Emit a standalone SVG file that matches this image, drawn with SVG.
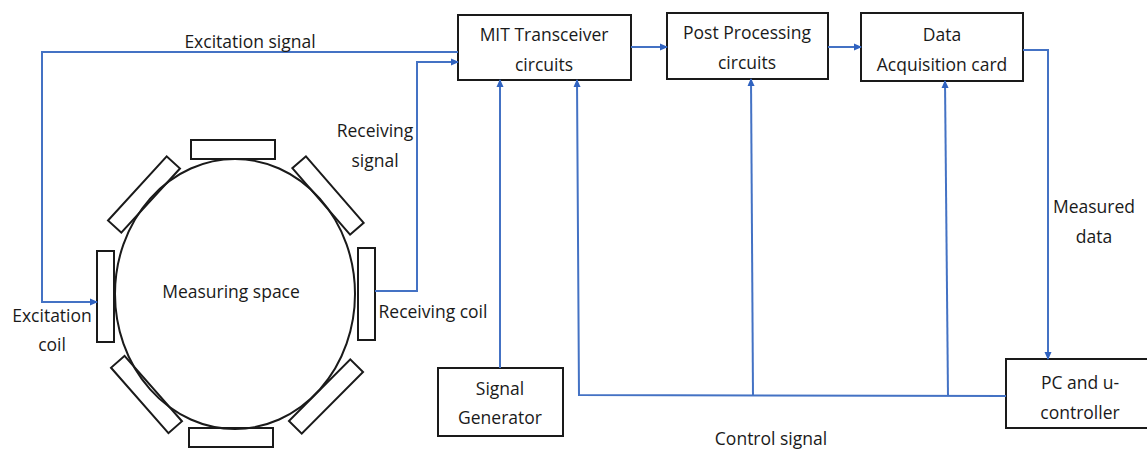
<svg xmlns="http://www.w3.org/2000/svg" width="1147" height="451" viewBox="0 0 1147 451">
<style>
.box{fill:#fff;stroke:#1a1a1a;stroke-width:2}
.coil{fill:none;stroke:#1a1a1a;stroke-width:2}
.ln{fill:none;stroke:#4472C4;stroke-width:2}
.t{font-family:"Open Sans","Noto Sans",sans-serif;font-size:17.5px;fill:#1a1a1a;text-anchor:middle}
</style>
<defs>
<marker id="ah" markerWidth="8" markerHeight="8" refX="7" refY="4" orient="auto" markerUnits="userSpaceOnUse">
<path d="M0,0.5 L8,4 L0,7.5 Z" fill="#2F62C0"/>
</marker>
</defs>
<rect width="1147" height="451" fill="#fff"/>

<g id="measuring-space">
<ellipse cx="235" cy="294" rx="120" ry="135" fill="none" stroke="#1a1a1a" stroke-width="2"/>
<text class="t" x="231" y="298">Measuring space</text>
</g>
<g id="coils">
<rect class="coil" x="191" y="140" width="84" height="19"/>
<rect class="coil" x="189" y="428" width="84" height="19"/>
<rect class="coil" x="97" y="251" width="17" height="91"/>
<rect class="coil" x="358" y="248" width="17" height="92"/>
<rect class="coil" x="100.5" y="185.5" width="87" height="18" transform="rotate(-47.6 144 194.5)"/>
<rect class="coil" x="284" y="186.5" width="88" height="18" transform="rotate(49 328 195.5)"/>
<rect class="coil" x="103" y="385.5" width="87" height="18" transform="rotate(48.7 146.5 394.5)"/>
<rect class="coil" x="282.5" y="387.5" width="87" height="18" transform="rotate(-45.2 326 396.5)"/>
</g>
<g id="excitation-coil-label">
<text class="t" x="52" y="322">Excitation</text>
<text class="t" x="52" y="351">coil</text>
</g>
<g id="receiving-coil-label">
<text class="t" x="433" y="318">Receiving coil</text>
</g>

<g id="mit-transceiver">
<rect class="box" x="458" y="15" width="173" height="65"/>
<text class="t" x="544" y="41">MIT Transceiver</text>
<text class="t" x="544" y="71">circuits</text>
</g>
<g id="post-processing">
<rect class="box" x="667" y="13" width="161" height="66"/>
<text class="t" x="747" y="39">Post Processing</text>
<text class="t" x="747" y="69">circuits</text>
</g>
<g id="data-acquisition">
<rect class="box" x="861" y="13" width="162" height="68"/>
<text class="t" x="942" y="41">Data</text>
<text class="t" x="942" y="71">Acquisition card</text>
</g>
<g id="signal-generator">
<rect class="box" x="438" y="368" width="125" height="68"/>
<text class="t" x="500" y="395">Signal</text>
<text class="t" x="500" y="424">Generator</text>
</g>
<g id="pc-controller">
<rect class="box" x="1006" y="359" width="150" height="69"/>
<text class="t" x="1080" y="389">PC and u-</text>
<text class="t" x="1080" y="419">controller</text>
</g>

<g id="connectors">
<polyline class="ln" points="458,52 42,52 42,302 97,302" marker-end="url(#ah)"/>
<polyline class="ln" points="375,291 417,291 417,62 458,62" marker-end="url(#ah)"/>
<line class="ln" x1="631" y1="47" x2="667" y2="47" marker-end="url(#ah)"/>
<line class="ln" x1="828" y1="47" x2="861" y2="47" marker-end="url(#ah)"/>
<polyline class="ln" points="1023,50 1048,50 1048,359" marker-end="url(#ah)"/>
<line class="ln" x1="500" y1="368" x2="500" y2="80" marker-end="url(#ah)"/>
<polyline class="ln" points="1006,396 579,395 577,80" marker-end="url(#ah)"/>
<line class="ln" x1="753" y1="396" x2="751" y2="79" marker-end="url(#ah)"/>
<line class="ln" x1="948" y1="396" x2="945" y2="81" marker-end="url(#ah)"/>
</g>
<g id="connector-labels">
<text class="t" x="250" y="48">Excitation signal</text>
<text class="t" x="375" y="137">Receiving</text>
<text class="t" x="375" y="167">signal</text>
<text class="t" x="1094" y="213">Measured</text>
<text class="t" x="1094" y="243">data</text>
<text class="t" x="771" y="445">Control signal</text>
</g>
</svg>
